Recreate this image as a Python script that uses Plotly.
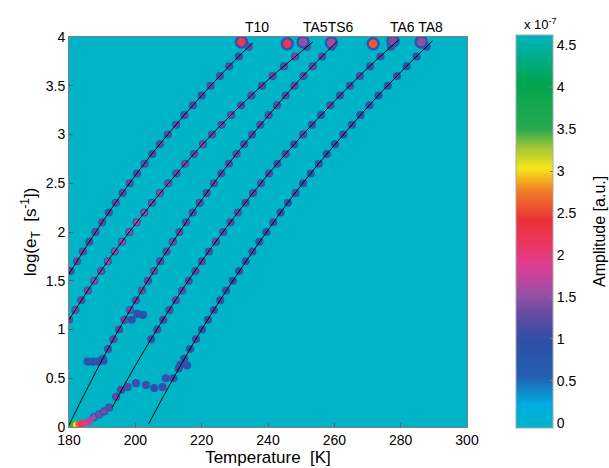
import plotly.graph_objects as go

# ---------------- data ----------------
x_ticks = [180, 200, 220, 240, 260, 280, 300]
y_ticks = [0, 0.5, 1, 1.5, 2, 2.5, 3, 3.5, 4]
cb_ticks = [0, 0.5, 1, 1.5, 2, 2.5, 3, 3.5, 4, 4.5]

# Arrhenius fit lines (temperature K, log10 emission rate)
line1_T = [180, 190, 200, 210, 220, 230, 235.4]
line1_y = [1.57, 2.10, 2.58, 3.01, 3.40, 3.76, 3.94]
line2_T = [180, 190, 200, 210, 220, 230, 240, 250, 253.5]
line2_y = [1.10, 1.62, 2.08, 2.50, 2.89, 3.24, 3.56, 3.85, 3.95]
line3_T = [180, 190, 200, 210, 220, 230, 240, 250, 260.7]
line3_y = [0.02, 0.69, 1.29, 1.83, 2.33, 2.78, 3.19, 3.58, 3.95]
line4_T = [193, 200, 210, 220, 230, 240, 250, 260, 270, 279.4]
line4_y = [0.20, 0.63, 1.19, 1.70, 2.16, 2.59, 2.98, 3.34, 3.68, 3.97]
line5_T = [204, 210, 220, 230, 240, 250, 260, 270, 280, 289.6]
line5_y = [0.03, 0.41, 1.00, 1.53, 2.02, 2.48, 2.89, 3.28, 3.64, 3.96]

# amplitude maxima along each line (T, log e, amplitude x1e-7)
blob1_T = [180.5, 182.4, 184.2, 186.1, 188.0, 190.0, 192.0, 194.1, 196.2, 198.3, 200.5, 202.8,
           205.1, 207.4, 209.8, 212.3, 214.8, 217.4, 220.0, 222.7, 225.5, 228.3, 231.2, 234.2]
blob1_y = [1.6, 1.7, 1.8, 1.9, 2.0, 2.1, 2.2, 2.3, 2.4, 2.5, 2.6, 2.7,
           2.8, 2.9, 3.0, 3.1, 3.2, 3.3, 3.4, 3.5, 3.6, 3.7, 3.8, 3.9]
blob1_a = [1.2, 1.3, 1.3, 1.2, 1.3, 1.3, 1.2, 1.3, 1.2, 1.3, 1.2, 1.3,
           1.2, 1.3, 1.2, 1.3, 1.2, 1.2, 1.1, 1.2, 1.1, 1.2, 1.1, 1.3]

blob2_T = [180.0, 181.9, 183.7, 185.7, 187.6, 189.7, 191.7, 193.8, 196.0, 198.2, 200.4, 202.7,
           205.0, 207.4, 209.9, 212.4, 215.0, 217.7, 220.4, 223.1, 226.0, 228.9, 231.9, 235.0,
           238.2, 241.4, 244.8, 248.2, 251.7]
blob2_y = [1.1, 1.2, 1.3, 1.4, 1.5, 1.6, 1.7, 1.8, 1.9, 2.0, 2.1, 2.2,
           2.3, 2.4, 2.5, 2.6, 2.7, 2.8, 2.9, 3.0, 3.1, 3.2, 3.3, 3.4,
           3.5, 3.6, 3.7, 3.8, 3.9]
blob2_a = [1.3, 1.4, 1.3, 1.4, 1.5, 1.4, 1.6, 1.5, 1.6, 1.5, 1.6, 1.5,
           1.4, 1.5, 1.4, 1.3, 1.4, 1.3, 1.4, 1.3, 1.2, 1.3, 1.2, 1.3,
           1.2, 1.3, 1.2, 1.4, 1.3]

blob3_T = [190.2, 191.8, 193.4, 195.1, 196.7, 198.4, 200.2, 202.0, 203.8, 205.6, 207.5, 209.4,
           211.3, 213.3, 215.3, 217.3, 219.4, 221.5, 223.7, 225.9, 228.2, 230.5, 232.8, 235.2,
           237.7, 240.2, 242.7, 245.3, 248.0, 250.7, 253.5, 256.3, 259.2]
blob3_y = [0.7, 0.8, 0.9, 1.0, 1.1, 1.2, 1.3, 1.4, 1.5, 1.6, 1.7, 1.8,
           1.9, 2.0, 2.1, 2.2, 2.3, 2.4, 2.5, 2.6, 2.7, 2.8, 2.9, 3.0,
           3.1, 3.2, 3.3, 3.4, 3.5, 3.6, 3.7, 3.8, 3.9]
blob3_a = [1.1, 1.2, 1.3, 1.2, 1.3, 1.4, 1.3, 1.4, 1.3, 1.4, 1.3, 1.3,
           1.4, 1.3, 1.3, 1.2, 1.3, 1.2, 1.3, 1.2, 1.2, 1.3, 1.2, 1.2,
           1.2, 1.2, 1.3, 1.2, 1.3, 1.2, 1.3, 1.2, 1.3]

blob4_T = [204.8, 206.6, 208.4, 210.3, 212.2, 214.1, 216.1, 218.1, 220.1, 222.2, 224.3, 226.5,
           228.7, 230.9, 233.2, 235.5, 237.9, 240.3, 242.8, 245.3, 247.9, 250.6, 253.3, 256.0,
           258.8, 261.7, 264.7, 267.7, 270.8, 273.9, 277.1]
blob4_y = [0.9, 1.0, 1.1, 1.2, 1.3, 1.4, 1.5, 1.6, 1.7, 1.8, 1.9, 2.0,
           2.1, 2.2, 2.3, 2.4, 2.5, 2.6, 2.7, 2.8, 2.9, 3.0, 3.1, 3.2,
           3.3, 3.4, 3.5, 3.6, 3.7, 3.8, 3.9]
blob4_a = [1.1, 1.2, 1.1, 1.2, 1.2, 1.3, 1.2, 1.3, 1.2, 1.2, 1.3, 1.2,
           1.2, 1.3, 1.2, 1.2, 1.2, 1.2, 1.1, 1.2, 1.1, 1.2, 1.1, 1.1,
           1.2, 1.1, 1.1, 1.2, 1.1, 1.1, 1.2]

blob5_T = [211.5, 213.1, 214.8, 216.5, 218.3, 220.1, 221.9, 223.7, 225.6, 227.4, 229.4, 231.3,
           233.3, 235.3, 237.4, 239.5, 241.6, 243.8, 246.0, 248.3, 250.6, 252.9, 255.3, 257.7,
           260.2, 262.7, 265.3, 267.9, 270.6, 273.3, 276.1, 278.9, 281.8, 284.8, 287.8]
blob5_y = [0.5, 0.6, 0.7, 0.8, 0.9, 1.0, 1.1, 1.2, 1.3, 1.4, 1.5, 1.6,
           1.7, 1.8, 1.9, 2.0, 2.1, 2.2, 2.3, 2.4, 2.5, 2.6, 2.7, 2.8,
           2.9, 3.0, 3.1, 3.2, 3.3, 3.4, 3.5, 3.6, 3.7, 3.8, 3.9]
blob5_a = [1.0, 1.1, 1.0, 1.0, 1.1, 1.0, 1.1, 1.0, 1.1, 1.1, 1.0, 1.1,
           1.0, 1.1, 1.0, 1.0, 1.1, 1.0, 1.0, 1.1, 1.0, 1.0, 1.1, 1.0,
           1.0, 1.0, 1.1, 1.0, 1.0, 1.0, 1.0, 1.0, 1.0, 1.0, 1.0]

# additional maxima off the fit lines
extra_T = [187.5, 189.1, 190.6, 192.1, 194.2, 195.7, 197.7, 200.2, 203.2, 205.7, 208.2,
           185.6, 187.2, 188.8, 190.4, 198.9, 200.6, 202.3, 209.2, 213.6, 215.6]
extra_y = [0.10, 0.13, 0.16, 0.20, 0.31, 0.38, 0.41, 0.45, 0.43, 0.40, 0.41,
           0.67, 0.67, 0.67, 0.68, 1.10, 1.16, 1.15, 0.50, 0.64, 0.63]
extra_a = [1.5, 1.4, 1.4, 1.3, 1.3, 1.2, 1.2, 1.1, 1.1, 1.0, 1.0,
           1.0, 1.0, 1.0, 0.9, 1.0, 1.0, 0.9, 1.0, 1.0, 1.0]

# strong maxima
low_T = [180.6, 181.4, 182.2, 183.0, 183.8, 184.6, 185.5, 186.4]
low_y = [0.02, 0.02, 0.02, 0.03, 0.03, 0.04, 0.05, 0.07]
low_a = [3.6, 3.5, 3.1, 2.6, 2.3, 2.0, 1.8, 1.6]
top_T = [232.0, 245.8, 250.6, 259.1, 271.7, 277.7, 286.2]
top_y = [3.95, 3.93, 3.95, 3.94, 3.93, 3.96, 3.95]
top_a = [2.2, 2.2, 1.5, 1.6, 2.6, 1.4, 1.5]

trap_labels = ["T10", "TA5TS6", "TA6 TA8"]
trap_label_T = [236.6, 258.2, 284.8]

# ---------------- styling ----------------
FONT = "Liberation Sans, Arial, sans-serif"
BG = "rgb(0,180,200)"
RIM = "rgb(45,85,180)"
cscale = [
    [0.00, "rgb(0,180,200)"],
    [0.06, "rgb(0,172,226)"],
    [0.10, "rgb(20,130,200)"],
    [0.13, "rgb(35,95,178)"],
    [0.22, "rgb(45,80,165)"],
    [0.29, "rgb(100,75,160)"],
    [0.34, "rgb(150,80,165)"],
    [0.41, "rgb(222,62,150)"],
    [0.47, "rgb(235,55,95)"],
    [0.53, "rgb(235,50,55)"],
    [0.60, "rgb(240,120,40)"],
    [0.66, "rgb(245,230,25)"],
    [0.71, "rgb(170,200,50)"],
    [0.76, "rgb(40,170,80)"],
    [0.88, "rgb(0,165,80)"],
    [1.00, "rgb(0,180,190)"],
]

# plot-area geometry in pixels (used to place items outside the axes)
PL, PR, PT, PB = 69, 467, 37, 427
PW, PH = PR - PL, PB - PT

fig = go.Figure()

blob_sets = [(blob1_T, blob1_y, blob1_a), (blob2_T, blob2_y, blob2_a),
             (blob3_T, blob3_y, blob3_a), (blob4_T, blob4_y, blob4_a),
             (blob5_T, blob5_y, blob5_a), (extra_T, extra_y, extra_a)]
for bT, by, ba in blob_sets:
    fig.add_trace(go.Scatter(
        x=bT, y=by, mode="markers", hoverinfo="skip", showlegend=False,
        marker=dict(size=7, color=ba, coloraxis="coloraxis",
                    line=dict(color=RIM, width=1.2)),
    ))

fig.add_trace(go.Scatter(
    x=low_T, y=low_y, mode="markers", hoverinfo="skip", showlegend=False,
    marker=dict(size=7, color=low_a, coloraxis="coloraxis", line=dict(width=0)),
))
fig.add_trace(go.Scatter(
    x=top_T, y=top_y, mode="markers", hoverinfo="skip", showlegend=False,
    marker=dict(size=11, color=top_a, coloraxis="coloraxis",
                line=dict(color=RIM, width=2.5)),
))

for lT, ly in [(line1_T, line1_y), (line2_T, line2_y), (line3_T, line3_y),
               (line4_T, line4_y), (line5_T, line5_y)]:
    fig.add_trace(go.Scatter(
        x=lT, y=ly, mode="lines", hoverinfo="skip", showlegend=False,
        line=dict(color="black", width=1, shape="spline"),
    ))

for lab, lx in zip(trap_labels, trap_label_T):
    fig.add_annotation(x=lx, y=(PB - 27) / PH, xref="x", yref="paper", text=lab,
                       showarrow=False, font=dict(size=14, color="black"),
                       xanchor="center", yanchor="middle")

fig.add_annotation(x=(540 - PL) / PW, y=(PB - 24) / PH, xref="paper", yref="paper",
                   text="x 10<sup>-7</sup>", showarrow=False,
                   font=dict(size=13, color="black"), xanchor="center", yanchor="middle")

# colour-bar title, placed where the reference shows it
fig.add_annotation(x=(599 - PL) / PW, y=(PB - 232) / PH, xref="paper", yref="paper",
                   text="Amplitude [a.u.]", textangle=-90, showarrow=False,
                   font=dict(size=16, color="black"), xanchor="center", yanchor="middle")

fig.update_layout(
    width=609, height=468,
    margin=dict(l=PL, r=609 - PR, t=PT, b=468 - PB, autoexpand=False),
    paper_bgcolor="white", plot_bgcolor=BG,
    font=dict(family=FONT, size=14, color="black"),
    coloraxis=dict(
        colorscale=cscale, cmin=-0.06, cmax=4.62,
        colorbar=dict(
            x=(516 - PL) / PW, xanchor="left", xpad=0,
            y=(PB - 231.5) / PH, yanchor="middle", ypad=0,
            len=393, lenmode="pixels", thickness=37,
            outlinewidth=1, outlinecolor="rgb(170,170,170)",
            tickvals=cb_ticks, ticktext=[f"{v:g}" for v in cb_ticks],
            ticks="inside", ticklen=3, tickcolor="rgb(120,120,120)",
            tickfont=dict(size=14, family=FONT),
        ),
    ),
    xaxis=dict(
        range=[180, 300], tickvals=x_ticks, ticktext=[str(v) for v in x_ticks],
        ticks="inside", ticklen=4, tickcolor="rgb(90,90,90)",
        showline=True, mirror=True, linecolor="rgb(130,130,130)", linewidth=1,
        showgrid=False, zeroline=False, automargin=False,
        tickfont=dict(size=14),
        title=dict(text="Temperature  [K]", font=dict(size=17), standoff=2),
    ),
    yaxis=dict(
        range=[0, 4], tickvals=y_ticks, ticktext=[f"{v:g}" for v in y_ticks],
        ticks="inside", ticklen=4, tickcolor="rgb(90,90,90)",
        showline=True, mirror=True, linecolor="rgb(130,130,130)", linewidth=1,
        showgrid=False, zeroline=False, automargin=False,
        tickfont=dict(size=14),
        title=dict(text="log(e<sub>T</sub>  [s<sup>-1</sup>])", font=dict(size=17), standoff=4),
    ),
)

fig.write_html("out.html")
